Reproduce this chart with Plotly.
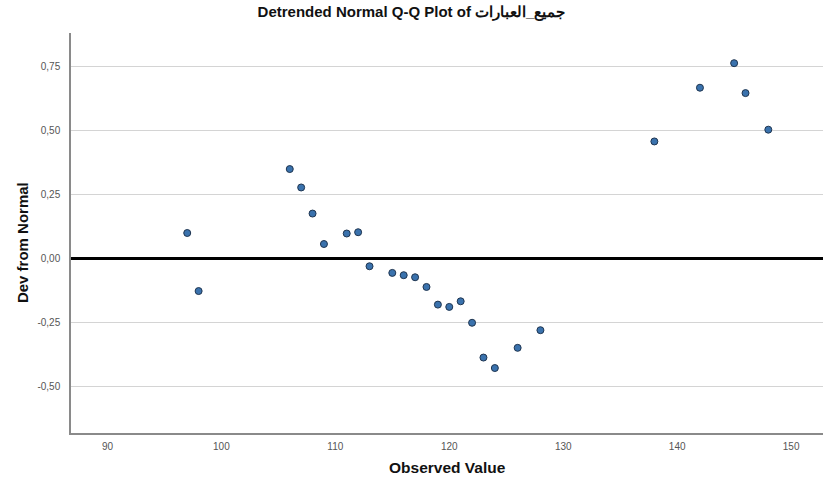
import plotly.graph_objects as go

observed = [97, 98, 106, 107, 108, 109, 111, 112, 113, 115, 116, 117, 118, 119, 120, 121,
            122, 123, 124, 126, 128, 138, 142, 145, 146, 148]
deviation = [0.10, -0.127, 0.35, 0.278, 0.176, 0.057, 0.098, 0.103, -0.030, -0.056, -0.065,
             -0.073, -0.111, -0.180, -0.189, -0.167, -0.251, -0.387, -0.428, -0.349, -0.280,
             0.458, 0.668, 0.764, 0.647, 0.504]

x_ticks = [90, 100, 110, 120, 130, 140, 150]
y_ticks = [-0.5, -0.25, 0.0, 0.25, 0.5, 0.75]
y_tick_text = ["-0,50", "-0,25", "0,00", "0,25", "0,50", "0,75"]

fig = go.Figure()
fig.add_trace(go.Scatter(
    x=observed, y=deviation, mode="markers",
    marker=dict(size=7, color="#3a72ad", line=dict(color="#1f3550", width=1)),
    showlegend=False, hoverinfo="x+y",
))

fig.update_layout(
    width=823, height=480,
    paper_bgcolor="white", plot_bgcolor="white",
    margin=dict(l=71, r=0, t=33, b=47, autoexpand=False),
    font=dict(family="Liberation Sans, Arial, sans-serif", color="#222"),
    title=dict(text="<b>Detrended Normal Q-Q Plot of جميع_العبارات</b>",
               x=0.5, xanchor="center", y=0.976, yref="container", yanchor="middle",
               font=dict(size=15, color="#111")),
    xaxis=dict(
        range=[86.8, 152.8], tickvals=x_ticks, showgrid=False, zeroline=False,
        showline=True, linecolor="#8a8a8a", linewidth=2, ticks="",
        tickfont=dict(size=10, color="#555"), ticklabelstandoff=3, automargin=False,
    ),
    yaxis=dict(
        range=[-0.682, 0.882], tickvals=y_ticks, ticktext=y_tick_text,
        showgrid=True, gridcolor="#d4d4d4", gridwidth=1,
        zeroline=True, zerolinecolor="black", zerolinewidth=2.5,
        showline=True, linecolor="#8a8a8a", linewidth=1.5, ticks="",
        tickfont=dict(size=10, color="#555"), ticklabelstandoff=7, automargin=False,
    ),
    annotations=[
        dict(text="<b>Observed Value</b>", xref="paper", yref="paper", x=0.5, y=-0.0875,
             xanchor="center", yanchor="middle", showarrow=False,
             font=dict(size=15.5, color="#111")),
        dict(text="<b>Dev from Normal</b>", xref="paper", yref="paper", x=-0.065, y=0.475,
             xanchor="center", yanchor="middle", showarrow=False, textangle=-90,
             font=dict(size=15, color="#111")),
    ],
)

fig.write_html("out.html", config={"displayModeBar": False},
               post_script="document.body.style.margin='0';document.body.style.overflow='hidden';")
